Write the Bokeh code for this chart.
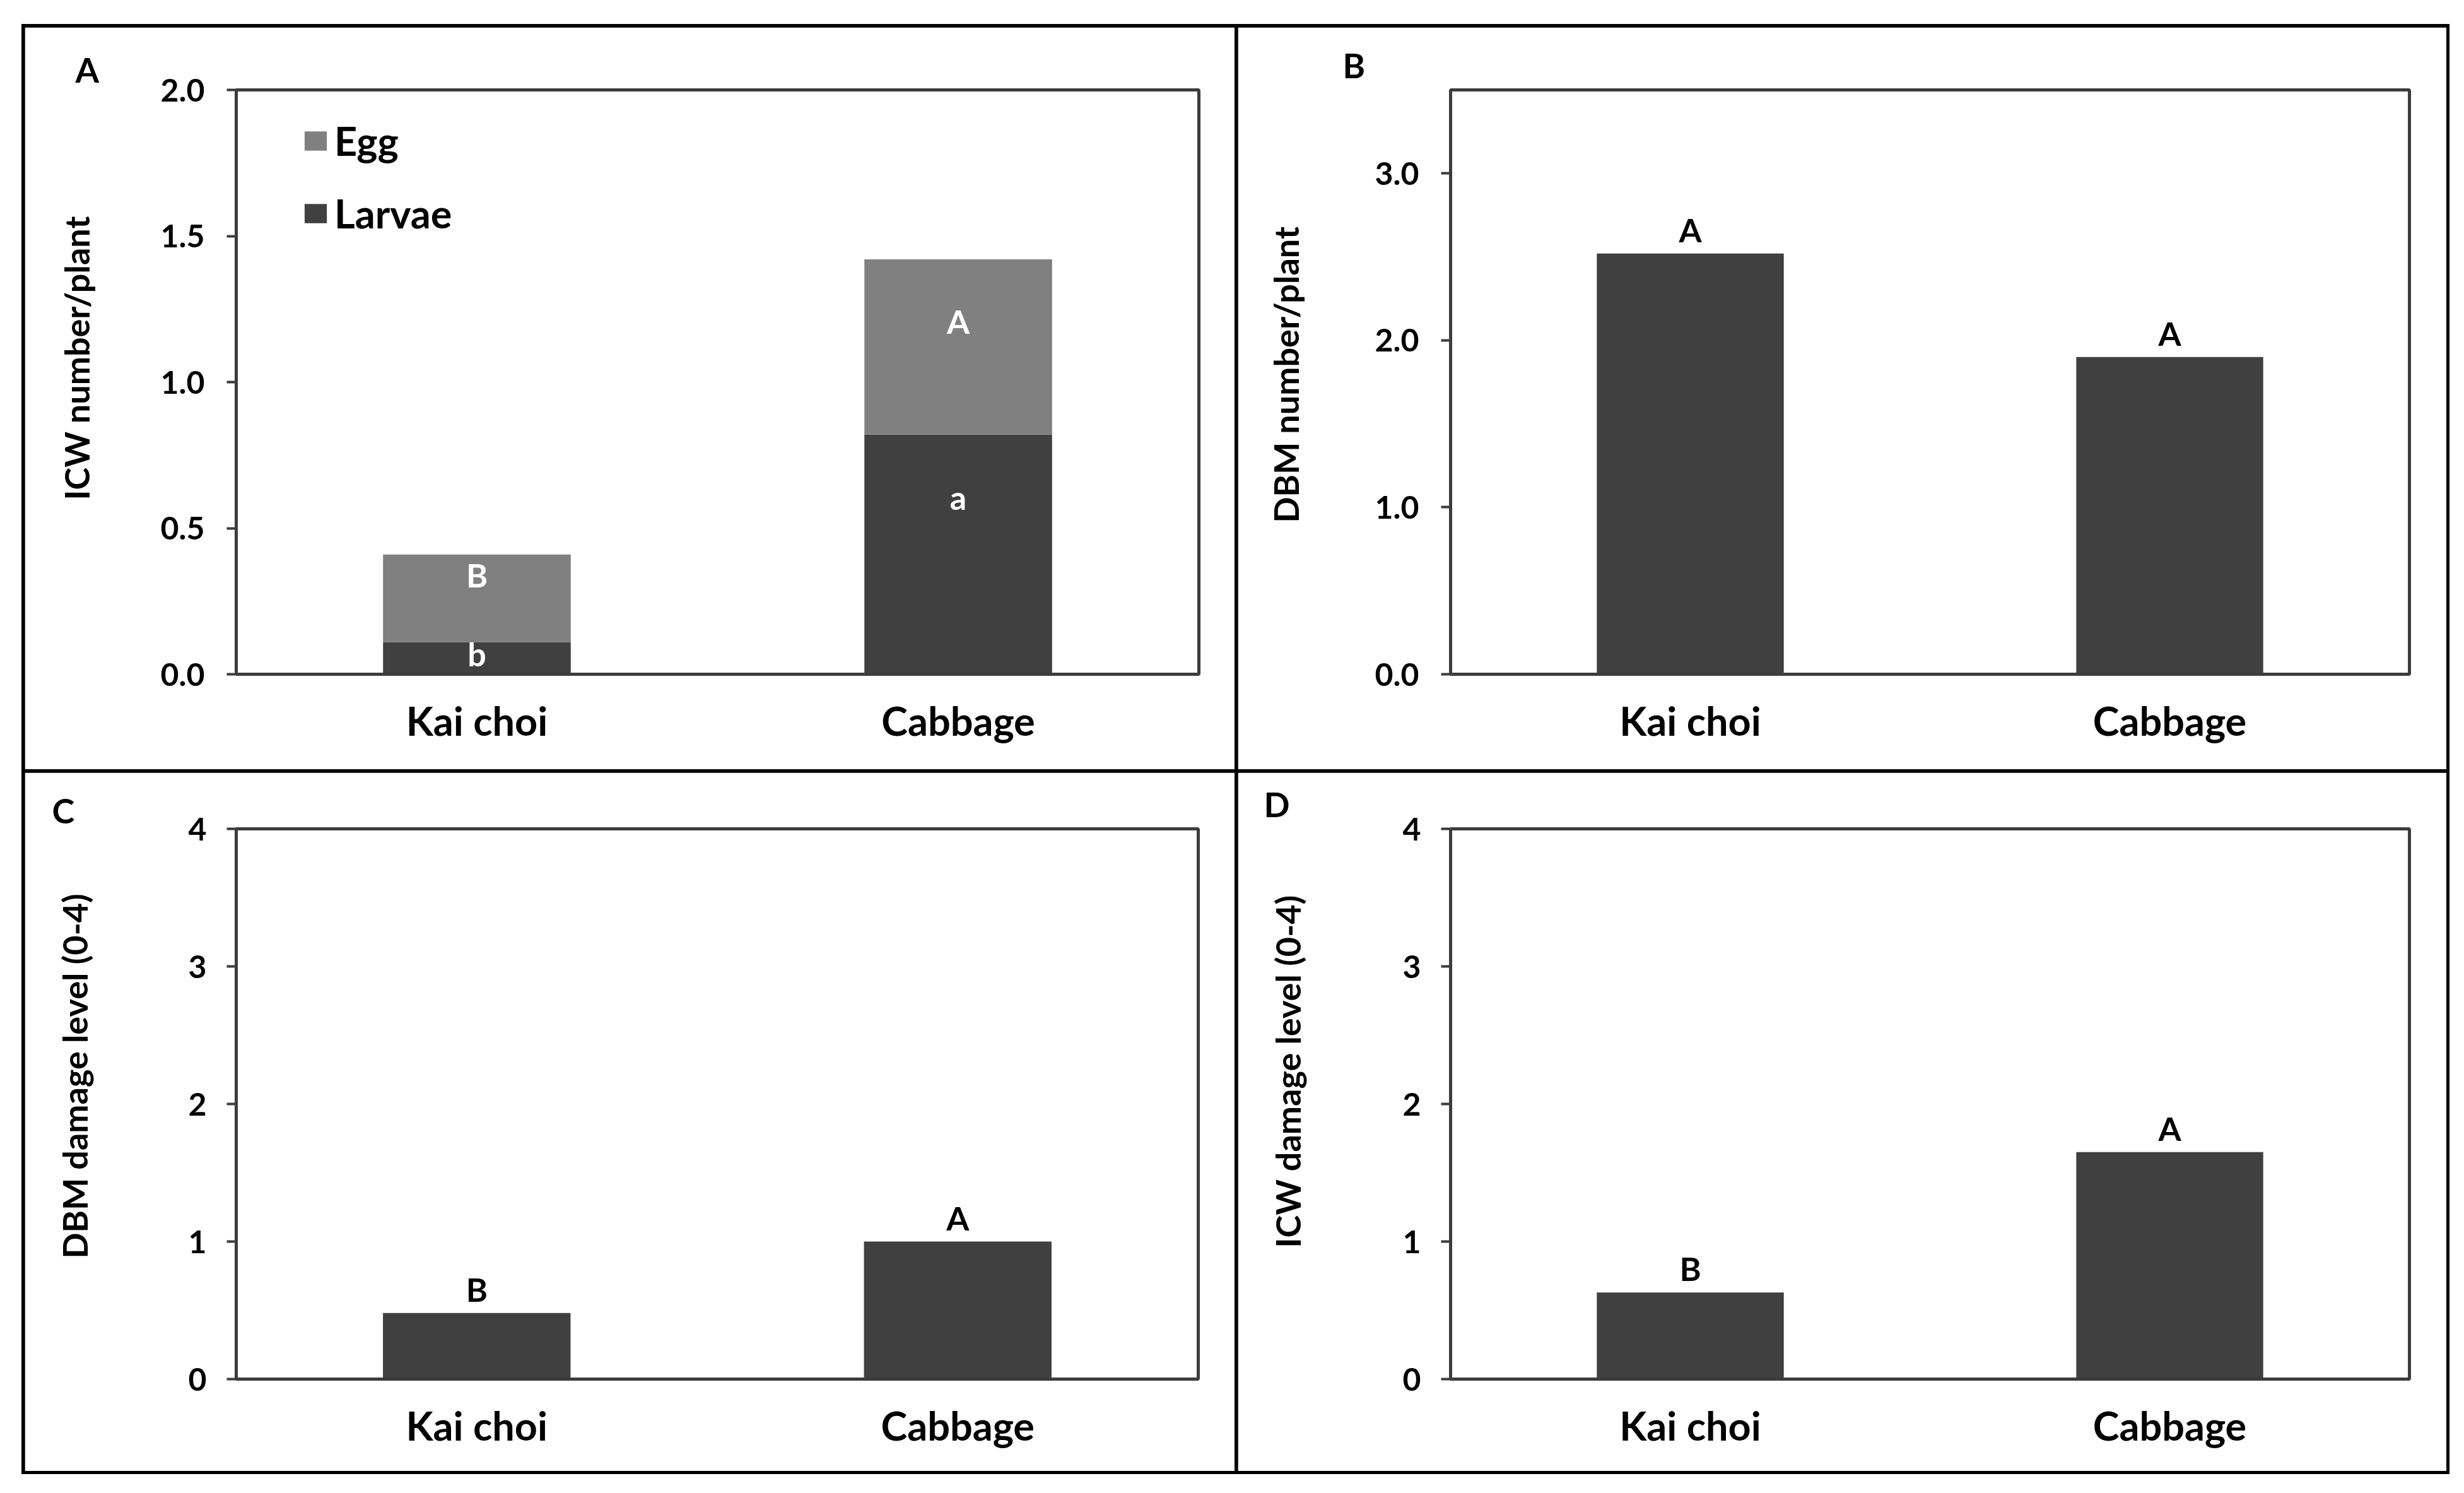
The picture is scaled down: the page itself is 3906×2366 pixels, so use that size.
from bokeh.plotting import figure
from bokeh.models import (Range1d, FactorRange, FixedTicker, NumeralTickFormatter, Title,
                          Legend, LegendItem, ColumnDataSource, Spacer)
from bokeh.layouts import row, column
from bokeh.embed import file_html
from bokeh.resources import INLINE
from bokeh.core.properties import value

# ---------------- data ----------------
categories = ["Kai choi", "Cabbage"]

icw_larvae = [0.11, 0.82]
icw_egg = [0.30, 0.60]
icw_egg_letters = ["B", "A"]
icw_larvae_letters = ["b", "a"]

dbm_number = [2.52, 1.90]
dbm_number_letters = ["A", "A"]

dbm_damage = [0.48, 1.00]
dbm_damage_letters = ["B", "A"]

icw_damage = [0.63, 1.65]
icw_damage_letters = ["B", "A"]

yticks_a = [0, 0.5, 1.0, 1.5, 2.0]
yticks_b = [0, 1, 2, 3]
yticks_cd = [0, 1, 2, 3, 4]

titles = ["ICW number/plant", "DBM number/plant", "DBM damage level (0-4)", "ICW damage level (0-4)"]
panel_letters = ["A", "B", "C", "D"]

# ---------------- style ----------------
FONT = "Lato"
DARK = "#404040"
GRAY = "#808080"
LINE = "#3c3c3c"
BAR_W = 0.39


def make_fig(w, h, bl, br, bt, bb, ymax, yticks, yfmt, tick_standoff,
             ytitle, ytitle_gap, ytitle_offset, letter, letter_offset, letter_standoff):
    p = figure(width=w, height=h, x_range=FactorRange(*categories), y_range=Range1d(0, ymax),
               output_backend="svg", toolbar_location=None,
               min_border_left=bl, min_border_right=br, min_border_top=bt, min_border_bottom=bb)
    p.xgrid.visible = False
    p.ygrid.visible = False
    p.background_fill_color = "white"
    p.border_fill_color = "white"
    p.outline_line_color = LINE
    p.outline_line_width = 5

    # panel letter as the plot title
    p.title.text = letter
    p.title.align = "left"
    p.title.offset = letter_offset
    p.title.standoff = letter_standoff
    p.title.vertical_align = "bottom"
    p.title.text_font = FONT
    p.title.text_font_style = "bold"
    p.title.text_font_size = "54px"
    p.title.text_color = "#000000"

    xa = p.xaxis[0]
    xa.axis_line_color = LINE
    xa.axis_line_width = 5
    xa.major_tick_line_color = None
    xa.minor_tick_line_color = None
    xa.major_label_text_font = FONT
    xa.major_label_text_font_style = "bold"
    xa.major_label_text_font_size = "63px"
    xa.major_label_text_color = "#000000"
    xa.major_label_standoff = 29

    ya = p.yaxis[0]
    ya.ticker = FixedTicker(ticks=yticks)
    ya.formatter = NumeralTickFormatter(format=yfmt)
    ya.axis_line_color = LINE
    ya.axis_line_width = 5
    ya.major_tick_out = 15
    ya.major_tick_in = 0
    ya.major_tick_line_width = 4
    ya.major_tick_line_color = LINE
    ya.minor_tick_line_color = None
    ya.major_label_text_font = FONT
    ya.major_label_text_font_style = "bold"
    ya.major_label_text_font_size = "50px"
    ya.major_label_text_color = "#000000"
    ya.major_label_standoff = tick_standoff
    # blank axis label only reserves the gap between tick labels and the y title
    ya.axis_label = " "
    ya.axis_label_text_font_size = "1px"
    ya.axis_label_standoff = ytitle_gap

    # y title, placed along the axis from the frame bottom
    p.add_layout(Title(text=ytitle, align="left", offset=ytitle_offset, standoff=0,
                       vertical_align="middle", text_font=FONT, text_font_style="bold",
                       text_font_size="54px", text_color="#000000"), "left")
    return p


def top_letters(p, vals, letters):
    src = ColumnDataSource(dict(x=categories, y=vals, t=letters))
    p.text(x="x", y="y", text="t", source=src, text_align="center", text_baseline="alphabetic",
           y_offset=-38, text_font=value(FONT), text_font_style="bold", text_font_size="52px",
           text_color="#000000")


# ---------------- panel A ----------------
pA = make_fig(1918, 1176, 335, 57, 99, 151, 2.0, yticks_a, "0.0", 35,
              titles[0], 93, 276, panel_letters[0], -255, 0)
srcA = ColumnDataSource(dict(cat=categories, larvae=icw_larvae, egg=icw_egg))
r_lar, r_egg = pA.vbar_stack(["larvae", "egg"], x="cat", width=BAR_W, source=srcA,
                             fill_color=[DARK, GRAY], line_color=None)
inbar_egg_y = [0.298, 1.166]
inbar_larvae_y = [0.026, 0.562]
pA.text(x=categories, y=inbar_egg_y, text=icw_egg_letters, text_align="center",
        text_baseline="alphabetic", y_offset=-20,
        text_font=value(FONT), text_font_style="bold", text_font_size="52px", text_color="#ffffff")
pA.text(x=categories, y=inbar_larvae_y, text=icw_larvae_letters, text_align="center",
        text_baseline="alphabetic", y_offset=-20,
        text_font=value(FONT), text_font_style="bold", text_font_size="52px", text_color="#ffffff")
leg = Legend(items=[LegendItem(label="Egg", renderers=[r_egg]), LegendItem(label="Larvae", renderers=[r_lar])],
             location=(104, 693), orientation="vertical", padding=0, margin=0, spacing=40,
             glyph_width=44, glyph_height=38, label_standoff=8,
             label_text_font=FONT, label_text_font_style="bold", label_text_font_size="63px",
             label_text_color="#000000", border_line_color=None, background_fill_alpha=0)
pA.add_layout(leg)

# ---------------- panel B ----------------
pB = make_fig(1916, 1176, 337, 59, 99, 151, 3.5, yticks_b, "0.0", 35,
              titles[1], 101, 240, panel_letters[1], -171, 14)
pB.vbar(x=categories, top=dbm_number, width=BAR_W, fill_color=DARK, line_color=None)
top_letters(pB, dbm_number, dbm_number_letters)

# ---------------- panel C ----------------
pC = make_fig(1918, 1107, 335, 58, 89, 146, 4.0, yticks_cd, "0", 32,
              titles[2], 140, 191, panel_letters[2], -292, -6)
pC.vbar(x=categories, top=dbm_damage, width=BAR_W, fill_color=DARK, line_color=None)
top_letters(pC, dbm_damage, dbm_damage_letters)

# ---------------- panel D ----------------
pD = make_fig(1916, 1107, 337, 59, 89, 146, 4.0, yticks_cd, "0", 32,
              titles[3], 142, 208, panel_letters[3], -296, 14)
pD.vbar(x=categories, top=icw_damage, width=BAR_W, fill_color=DARK, line_color=None)
top_letters(pD, icw_damage, icw_damage_letters)

BLACK = {"background-color": "#000000"}
grid = column(row(pA, pB, spacing=5, styles=BLACK),
              row(pC, pD, spacing=5, styles=BLACK),
              spacing=5, styles={"background-color": "#000000", "outline": "5px solid #000000"})
root = column(Spacer(height=43), row(Spacer(width=39), grid))

open("out.html", "w").write(file_html(root, INLINE, title="chart"))
